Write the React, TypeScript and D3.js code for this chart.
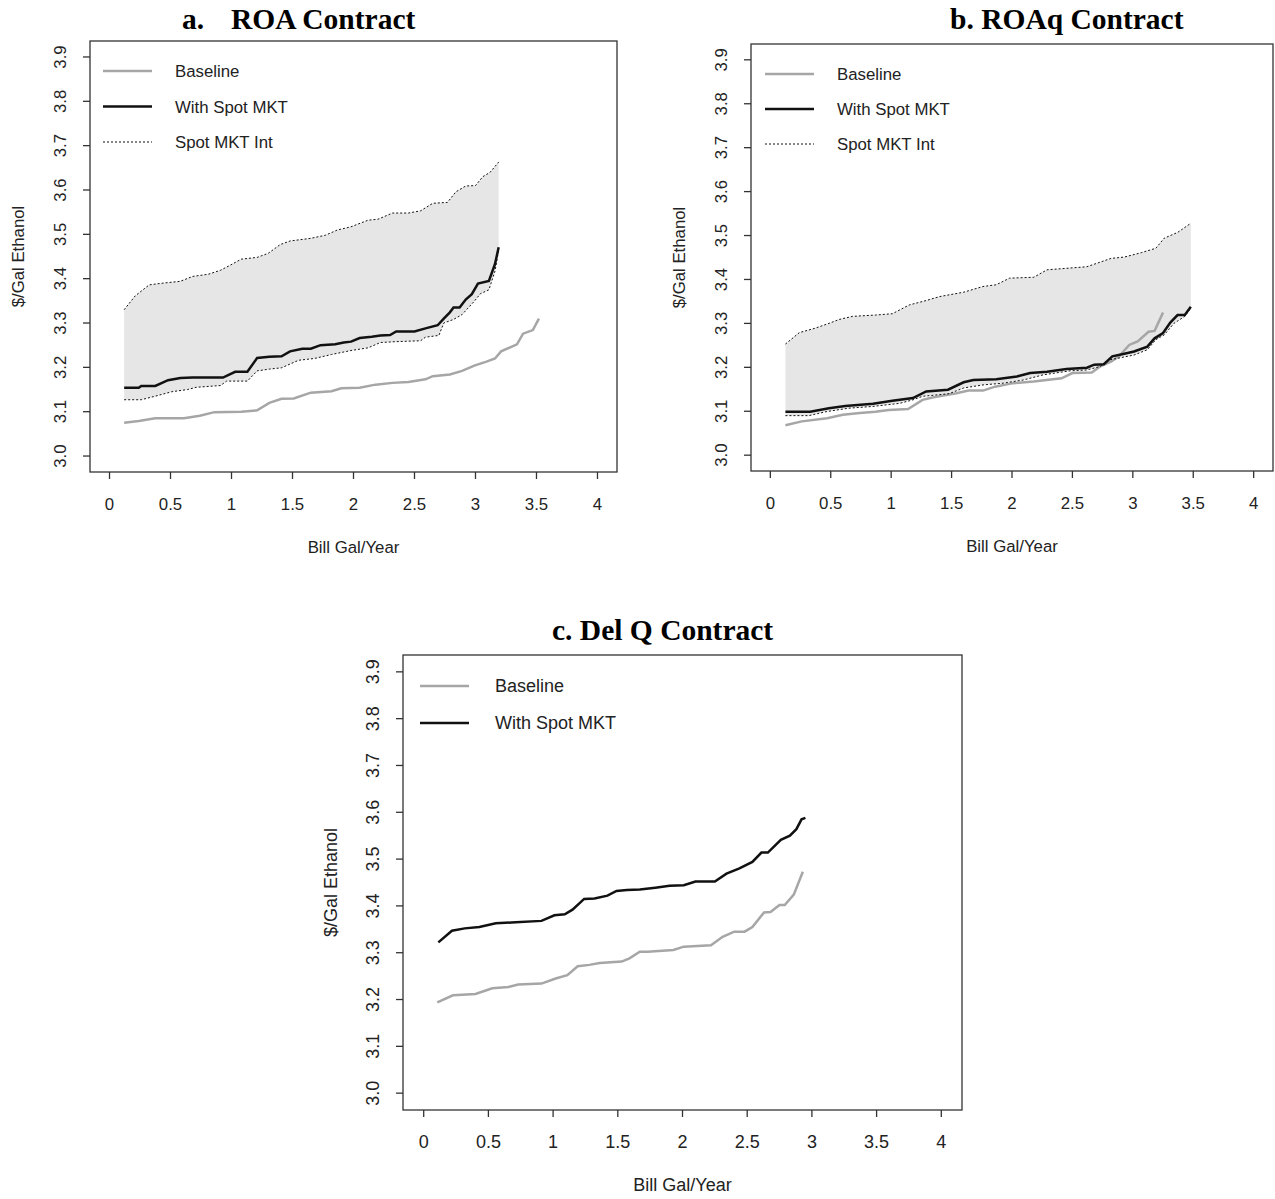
import React from 'react';
import * as d3 from 'd3';

type Pt = [number, number];

const xTicks = [0, 0.5, 1, 1.5, 2, 2.5, 3, 3.5, 4];
const yTicks = [3.0, 3.1, 3.2, 3.3, 3.4, 3.5, 3.6, 3.7, 3.8, 3.9];

// a. ROA Contract
const roaBaseline: Pt[] = [
  [0.12, 3.075], [0.24, 3.079], [0.375, 3.085], [0.61, 3.085], [0.74, 3.091], [0.86, 3.099],
  [1.08, 3.1], [1.21, 3.103], [1.31, 3.12], [1.41, 3.129], [1.51, 3.13], [1.65, 3.143],
  [1.82, 3.146], [1.9, 3.153], [2.05, 3.154], [2.18, 3.161], [2.32, 3.165], [2.45, 3.167],
  [2.59, 3.173], [2.65, 3.18], [2.79, 3.184], [2.89, 3.192], [2.99, 3.204], [3.09, 3.213],
  [3.16, 3.22], [3.21, 3.236], [3.34, 3.252], [3.39, 3.276], [3.47, 3.284], [3.52, 3.31],
];
const roaSpot: Pt[] = [
  [0.12, 3.154], [0.24, 3.154], [0.26, 3.158], [0.375, 3.158], [0.48, 3.171], [0.58, 3.176],
  [0.68, 3.177], [0.93, 3.177], [1.03, 3.19], [1.13, 3.19], [1.21, 3.221], [1.31, 3.224],
  [1.41, 3.225], [1.48, 3.236], [1.58, 3.242], [1.65, 3.242], [1.73, 3.25], [1.85, 3.252],
  [1.92, 3.256], [1.98, 3.258], [2.05, 3.266], [2.15, 3.269], [2.22, 3.272], [2.3, 3.273],
  [2.35, 3.281], [2.5, 3.281], [2.59, 3.288], [2.69, 3.295], [2.74, 3.31], [2.79, 3.324],
  [2.82, 3.335], [2.87, 3.335], [2.92, 3.353], [2.97, 3.365], [3.02, 3.389], [3.11, 3.395],
  [3.16, 3.433], [3.19, 3.471],
];
const roaUpper: Pt[] = [
  [0.12, 3.33], [0.21, 3.361], [0.325, 3.386], [0.44, 3.39], [0.58, 3.394], [0.68, 3.405],
  [0.81, 3.41], [0.91, 3.419], [0.98, 3.429], [1.08, 3.444], [1.21, 3.448], [1.3, 3.457],
  [1.4, 3.477], [1.48, 3.485], [1.65, 3.491], [1.77, 3.498], [1.87, 3.51], [1.98, 3.517],
  [2.12, 3.532], [2.2, 3.534], [2.32, 3.548], [2.45, 3.548], [2.55, 3.553], [2.65, 3.57],
  [2.77, 3.572], [2.84, 3.596], [2.92, 3.609], [3.0, 3.61], [3.06, 3.63], [3.12, 3.64],
  [3.19, 3.663],
];
const roaLower: Pt[] = [
  [0.12, 3.127], [0.26, 3.127], [0.375, 3.135], [0.51, 3.145], [0.64, 3.15], [0.71, 3.155],
  [0.91, 3.159], [0.96, 3.169], [1.13, 3.169], [1.21, 3.192], [1.31, 3.196], [1.41, 3.199],
  [1.55, 3.216], [1.68, 3.22], [1.82, 3.229], [1.98, 3.238], [2.12, 3.244], [2.22, 3.256],
  [2.35, 3.258], [2.55, 3.26], [2.59, 3.268], [2.7, 3.272], [2.74, 3.3], [2.82, 3.308],
  [2.89, 3.319], [2.99, 3.349], [3.04, 3.366], [3.11, 3.375], [3.16, 3.417], [3.19, 3.465],
];

// b. ROAq Contract
const roaqBaseline: Pt[] = [
  [0.125, 3.068], [0.26, 3.077], [0.47, 3.084], [0.6, 3.092], [0.74, 3.096], [0.87, 3.099],
  [0.98, 3.103], [1.14, 3.105], [1.26, 3.126], [1.35, 3.132], [1.54, 3.141], [1.64, 3.147],
  [1.76, 3.147], [1.86, 3.156], [2.01, 3.164], [2.18, 3.168], [2.41, 3.175], [2.5, 3.187],
  [2.66, 3.188], [2.73, 3.202], [2.82, 3.213], [2.89, 3.226], [2.97, 3.251], [3.04, 3.259],
  [3.13, 3.281], [3.18, 3.283], [3.25, 3.325],
];
const roaqSpot: Pt[] = [
  [0.125, 3.099], [0.33, 3.099], [0.485, 3.107], [0.62, 3.112], [0.85, 3.117], [1.01, 3.124],
  [1.18, 3.13], [1.29, 3.145], [1.47, 3.149], [1.6, 3.166], [1.68, 3.171], [1.87, 3.173],
  [2.04, 3.179], [2.15, 3.187], [2.29, 3.19], [2.45, 3.196], [2.62, 3.199], [2.68, 3.206],
  [2.76, 3.207], [2.83, 3.225], [2.93, 3.231], [3.01, 3.236], [3.12, 3.247], [3.18, 3.266],
  [3.25, 3.278], [3.31, 3.302], [3.37, 3.319], [3.43, 3.319], [3.48, 3.338],
];
const roaqUpper: Pt[] = [
  [0.125, 3.253], [0.24, 3.279], [0.37, 3.289], [0.485, 3.3], [0.57, 3.309], [0.68, 3.316],
  [0.87, 3.319], [1.01, 3.322], [1.15, 3.342], [1.29, 3.352], [1.4, 3.361], [1.6, 3.371],
  [1.76, 3.384], [1.87, 3.388], [1.98, 3.403], [2.18, 3.405], [2.29, 3.422], [2.48, 3.426],
  [2.62, 3.429], [2.82, 3.448], [2.93, 3.451], [3.07, 3.461], [3.19, 3.471], [3.26, 3.494],
  [3.37, 3.507], [3.48, 3.528],
];
const roaqLower: Pt[] = [
  [0.125, 3.09], [0.32, 3.09], [0.46, 3.099], [0.65, 3.107], [0.85, 3.111], [1.07, 3.118],
  [1.18, 3.126], [1.26, 3.134], [1.48, 3.14], [1.6, 3.153], [1.76, 3.16], [1.93, 3.164],
  [2.09, 3.171], [2.26, 3.183], [2.48, 3.192], [2.62, 3.194], [2.73, 3.202], [2.81, 3.217],
  [3.01, 3.228], [3.12, 3.24], [3.19, 3.263], [3.26, 3.274], [3.34, 3.3], [3.43, 3.316],
  [3.48, 3.335],
];

// c. Del Q Contract
const delqBaseline: Pt[] = [
  [0.105, 3.194], [0.226, 3.209], [0.4, 3.212], [0.53, 3.224], [0.655, 3.227], [0.73, 3.232],
  [0.91, 3.234], [1.02, 3.245], [1.11, 3.252], [1.19, 3.271], [1.28, 3.274], [1.36, 3.278],
  [1.53, 3.281], [1.59, 3.288], [1.67, 3.302], [1.73, 3.302], [1.93, 3.306], [2.01, 3.313],
  [2.22, 3.316], [2.31, 3.334], [2.4, 3.345], [2.48, 3.345], [2.54, 3.355], [2.63, 3.386],
  [2.68, 3.387], [2.75, 3.402], [2.79, 3.402], [2.86, 3.424], [2.93, 3.473],
];
const delqSpot: Pt[] = [
  [0.113, 3.322], [0.218, 3.347], [0.317, 3.352], [0.43, 3.355], [0.557, 3.363], [0.71, 3.365],
  [0.91, 3.368], [1.01, 3.38], [1.09, 3.382], [1.15, 3.392], [1.24, 3.415], [1.32, 3.416],
  [1.42, 3.422], [1.49, 3.432], [1.57, 3.434], [1.67, 3.435], [1.79, 3.439], [1.9, 3.443],
  [2.01, 3.444], [2.1, 3.452], [2.25, 3.452], [2.34, 3.469], [2.44, 3.48], [2.54, 3.494],
  [2.61, 3.514], [2.66, 3.514], [2.76, 3.541], [2.83, 3.55], [2.88, 3.564], [2.92, 3.585],
  [2.95, 3.588],
];

const GRAY = '#a6a6a6';
const BLACK = '#111';
const FILL = '#e6e6e6';
const AXIS = '#333';
const SANS = 'Arial, "Liberation Sans", sans-serif';
const SERIF = '"Times New Roman", "Liberation Serif", serif';

function Panel(props: any) {
  const { x0, x1, y0, y1, fs, baseline, spot, upper, lower, legendX, legendY, legendGap, textGap } = props;
  const x = d3.scaleLinear().domain([-0.16, 4.16]).range([x0, x1]);
  const y = d3.scaleLinear().domain([2.964, 3.936]).range([y1, y0]);
  const line = d3.line<Pt>().x(d => x(d[0])).y(d => y(d[1]));
  const band = upper && lower ? line(upper.concat(lower.slice().reverse())) + 'Z' : null;
  const cx = (x0 + x1) / 2;
  const cy = (y0 + y1) / 2;

  const legend = [
    { label: 'Baseline', stroke: GRAY, w: 2.5, dash: null },
    { label: 'With Spot MKT', stroke: BLACK, w: 2.5, dash: null },
  ];
  if (upper) legend.push({ label: 'Spot MKT Int', stroke: BLACK, w: 1, dash: '2,2' });

  return (
    <g>
      {band && <path d={band} fill={FILL} stroke="none" />}
      <path d={line(baseline) || ''} fill="none" stroke={GRAY} strokeWidth={2.5} />
      {upper && <path d={line(upper) || ''} fill="none" stroke={BLACK} strokeWidth={1} strokeDasharray="2,2" />}
      {lower && <path d={line(lower) || ''} fill="none" stroke={BLACK} strokeWidth={1} strokeDasharray="2,2" />}
      <path d={line(spot) || ''} fill="none" stroke={BLACK} strokeWidth={2.5} />

      <rect x={x0} y={y0} width={x1 - x0} height={y1 - y0} fill="none" stroke={AXIS} strokeWidth={1.3} />
      {xTicks.map(t => (
        <g key={'x' + t}>
          <line x1={x(t)} x2={x(t)} y1={y1} y2={y1 + 7} stroke={AXIS} strokeWidth={1.3} />
          <text x={x(t)} y={y1 + 38} textAnchor="middle" fontFamily={SANS} fontSize={fs} fill="#222">{String(t)}</text>
        </g>
      ))}
      {yTicks.map(t => (
        <g key={'y' + t}>
          <line x1={x0 - 7} x2={x0} y1={y(t)} y2={y(t)} stroke={AXIS} strokeWidth={1.3} />
          <text transform={`translate(${x0 - 24},${y(t)}) rotate(-90)`} textAnchor="middle" fontFamily={SANS} fontSize={fs} fill="#222">{t.toFixed(1)}</text>
        </g>
      ))}
      <text x={cx} y={y1 + 81} textAnchor="middle" fontFamily={SANS} fontSize={fs} fill="#222">Bill Gal/Year</text>
      <text transform={`translate(${x0 - 66},${cy}) rotate(-90)`} textAnchor="middle" fontFamily={SANS} fontSize={fs} fill="#222">$/Gal Ethanol</text>

      {legend.map((l, i) => (
        <g key={l.label}>
          <line x1={legendX} x2={legendX + 49} y1={legendY + i * legendGap} y2={legendY + i * legendGap}
            stroke={l.stroke} strokeWidth={l.w} strokeDasharray={l.dash || undefined} />
          <text x={legendX + textGap} y={legendY + i * legendGap + fs * 0.36} fontFamily={SANS} fontSize={fs} fill="#222">{l.label}</text>
        </g>
      ))}
    </g>
  );
}

export default function App() {
  return (
    <svg width={1275} height={1199} style={{ position: 'absolute', left: 0, top: 0, background: '#fff' }}>
      <text x={182} y={29} fontFamily={SERIF} fontWeight="bold" fontSize={29.5} fill="#000">a.</text>
      <text x={231} y={29} fontFamily={SERIF} fontWeight="bold" fontSize={29.5} fill="#000">ROA Contract</text>
      <text x={950} y={29} fontFamily={SERIF} fontWeight="bold" fontSize={29.5} fill="#000">b. ROAq Contract</text>
      <text x={552} y={640} fontFamily={SERIF} fontWeight="bold" fontSize={29.5} fill="#000">c. Del Q Contract</text>

      <Panel x0={90} x1={617} y0={41} y1={472} fs={16.8}
        baseline={roaBaseline} spot={roaSpot} upper={roaUpper} lower={roaLower}
        legendX={103} legendY={71} legendGap={35.5} textGap={72} />
      <Panel x0={751} x1={1273} y0={44} y1={471} fs={16.8}
        baseline={roaqBaseline} spot={roaqSpot} upper={roaqUpper} lower={roaqLower}
        legendX={765} legendY={74} legendGap={35} textGap={72} />
      <Panel x0={403} x1={962} y0={655} y1={1110} fs={18}
        baseline={delqBaseline} spot={delqSpot}
        legendX={420} legendY={686} legendGap={37} textGap={75} />
    </svg>
  );
}
